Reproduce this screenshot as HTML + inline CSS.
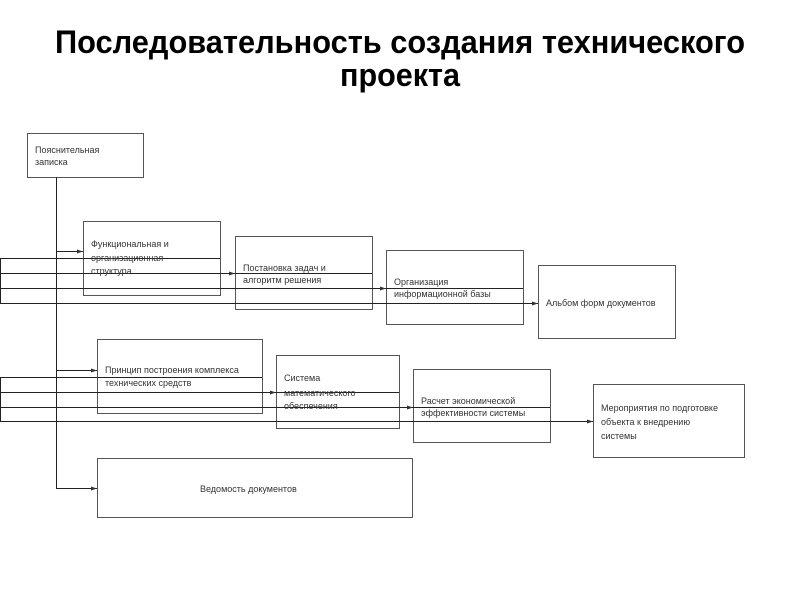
<!DOCTYPE html>
<html><head><meta charset="utf-8"><style>
body{margin:0;background:#fff;}
svg text{font-family:"Liberation Sans",sans-serif;}
.t{font-size:9px;fill:#333;}
</style></head><body>
<svg width="800" height="600" viewBox="0 0 800 600" xmlns="http://www.w3.org/2000/svg">
<defs><marker id="a" markerWidth="6" markerHeight="6" refX="6" refY="3" orient="auto" markerUnits="userSpaceOnUse"><path d="M0,1 L6,3 L0,5z" fill="#333"/></marker></defs>
<text x="400" y="53" text-anchor="middle" font-size="32" font-weight="bold" textLength="690" lengthAdjust="spacingAndGlyphs">Последовательность создания технического</text>
<text x="400" y="86" text-anchor="middle" font-size="32" font-weight="bold" textLength="120" lengthAdjust="spacingAndGlyphs">проекта</text>
<g fill="none" stroke="#555" stroke-width="1">
<rect x="27.5" y="133.5" width="116" height="44"/>
<rect x="83.5" y="221.5" width="137" height="74"/>
<rect x="235.5" y="236.5" width="137" height="73"/>
<rect x="386.5" y="250.5" width="137" height="74"/>
<rect x="538.5" y="265.5" width="137" height="73"/>
<rect x="97.5" y="339.5" width="165" height="74"/>
<rect x="276.5" y="355.5" width="123" height="73"/>
<rect x="413.5" y="369.5" width="137" height="73"/>
<rect x="593.5" y="384.5" width="151" height="73"/>
<rect x="97.5" y="458.5" width="315" height="59"/>
</g>
<g stroke="#222" stroke-width="1" fill="none">
<line x1="56.5" y1="177" x2="56.5" y2="488"/>
<line x1="56" y1="251.5" x2="83" y2="251.5" marker-end="url(#a)"/>
<line x1="56" y1="370.5" x2="97" y2="370.5" marker-end="url(#a)"/>
<line x1="56" y1="488.5" x2="97" y2="488.5" marker-end="url(#a)"/>
<line x1="0.5" y1="258" x2="0.5" y2="303"/>
<line x1="0" y1="258.5" x2="220" y2="258.5"/>
<line x1="0" y1="273.5" x2="372" y2="273.5"/>
<line x1="0" y1="273.5" x2="235" y2="273.5" marker-end="url(#a)"/>
<line x1="0" y1="288.5" x2="523" y2="288.5"/>
<line x1="0" y1="288.5" x2="386" y2="288.5" marker-end="url(#a)"/>
<line x1="0" y1="303.5" x2="538" y2="303.5" marker-end="url(#a)"/>
<line x1="0.5" y1="377" x2="0.5" y2="422"/>
<line x1="0" y1="377.5" x2="262" y2="377.5"/>
<line x1="0" y1="392.5" x2="399" y2="392.5"/>
<line x1="0" y1="392.5" x2="276" y2="392.5" marker-end="url(#a)"/>
<line x1="0" y1="407.5" x2="550" y2="407.5"/>
<line x1="0" y1="407.5" x2="413" y2="407.5" marker-end="url(#a)"/>
<line x1="0" y1="421.5" x2="593" y2="421.5" marker-end="url(#a)"/>
</g>
<g class="t">
<text x="35" y="153">Пояснительная</text><text x="35" y="165">записка</text>
<text x="91" y="247">Функциональная и</text><text x="91" y="261">организационная</text><text x="91" y="274">структура</text>
<text x="243" y="271">Постановка задач и</text><text x="243" y="283">алгоритм решения</text>
<text x="394" y="285">Организация</text><text x="394" y="297">информационной базы</text>
<text x="546" y="306">Альбом форм документов</text>
<text x="105" y="373">Принцип построения комплекса</text><text x="105" y="386">технических средств</text>
<text x="284" y="381">Система</text><text x="284" y="396">математического</text><text x="284" y="409">обеспечения</text>
<text x="421" y="404">Расчет экономической</text><text x="421" y="416">эффективности системы</text>
<text x="601" y="411">Мероприятия по подготовке</text><text x="601" y="425">объекта к внедрению</text><text x="601" y="439">системы</text>
<text x="200" y="492">Ведомость документов</text>
</g>
</svg>
</body></html>
